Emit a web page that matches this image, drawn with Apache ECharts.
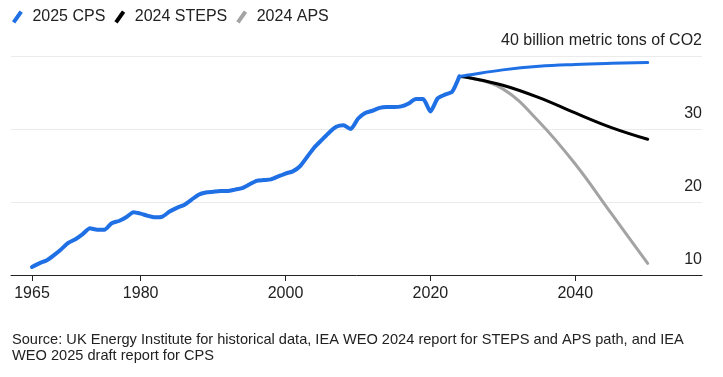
<!DOCTYPE html>
<html>
<head>
<meta charset="utf-8">
<script src="https://cdn.jsdelivr.net/npm/echarts@6/dist/echarts.min.js"></script>
<style>
  html, body { margin: 0; padding: 0; background: #fff; }
  #chart { width: 723px; height: 377px; }
</style>
</head>
<body>
<div id="chart"></div>
<script>
// Historical emissions (billion metric tons CO2), 1965-2024
var histYears = [
    1965, 1966, 1967, 1968, 1969, 1970, 1971, 1972, 1973, 1974,
    1975, 1976, 1977, 1978, 1979, 1980, 1981, 1982, 1983, 1984,
    1985, 1986, 1987, 1988, 1989, 1990, 1991, 1992, 1993, 1994,
    1995, 1996, 1997, 1998, 1999, 2000, 2001, 2002, 2003, 2004,
    2005, 2006, 2007, 2008, 2009, 2010, 2011, 2012, 2013, 2014,
    2015, 2016, 2017, 2018, 2019, 2020, 2021, 2022, 2023, 2024
];
var histValues = [
    11.1, 11.6, 12.0, 12.7, 13.5, 14.4, 14.9, 15.6, 16.4, 16.2,
    16.2, 17.1, 17.4, 17.9, 18.6, 18.4, 18.1, 17.9, 18.0, 18.7,
    19.2, 19.6, 20.3, 21.0, 21.3, 21.4, 21.5, 21.5, 21.7, 21.9,
    22.4, 22.9, 23.0, 23.1, 23.5, 23.9, 24.2, 24.9, 26.2, 27.5,
    28.5, 29.5, 30.3, 30.5, 30.0, 31.4, 32.2, 32.5, 32.9, 33.0,
    33.0, 33.1, 33.5, 34.1, 34.1, 32.4, 34.2, 34.7, 35.1, 37.2
];

// Projection paths
var projYears = [2024, 2025, 2030, 2035, 2040, 2045, 2050];
var cpsValues = [37.2, 37.35, 38.1, 38.6, 38.85, 39.0, 39.1];
var stepsValues = [37.2, 37.1, 36.0, 34.3, 32.2, 30.2, 28.6];
var apsValues = [37.2, 37.1, 35.5, 31.0, 25.2, 18.4, 11.6];

var xTicks = [1965, 1980, 2000, 2020, 2040];
var yTicks = [10, 20, 30, 40];

var seriesNames = ['2025 CPS', '2024 STEPS', '2024 APS'];

function pairs(xs, ys) {
    return xs.map(function (x, i) { return [x, ys[i]]; });
}

var fontFamily = 'Arial, "Liberation Sans", sans-serif';
var slashIcon = 'path://M7,0 L10,2 L3,12 L0,10 Z';

var chart = echarts.init(document.getElementById('chart'));

chart.setOption({
    animation: false,
    textStyle: { fontFamily: fontFamily },

    legend: {
        data: seriesNames,
        left: 7,
        top: 4,
        itemWidth: 20,
        itemHeight: 13,
        itemGap: 9,
        icon: slashIcon,
        selectedMode: false,
        textStyle: { fontSize: 16, color: '#222', fontFamily: fontFamily }
    },

    grid: { left: 11, right: 21, top: 56, bottom: 102 },

    xAxis: {
        type: 'value',
        min: 1962.1,
        max: 2057.5,
        splitLine: { show: false },
        axisLine: { show: true, lineStyle: { color: '#222', width: 1 } },
        axisTick: { show: true, length: 6, customValues: xTicks, lineStyle: { color: '#222' } },
        axisLabel: {
            customValues: xTicks,
            fontSize: 16,
            color: '#222',
            margin: 11,
            formatter: function (v) { return String(v); }
        }
    },

    yAxis: {
        type: 'value',
        position: 'right',
        min: 10,
        max: 40,
        interval: 10,
        axisLine: { show: false },
        axisTick: { show: false },
        splitLine: { lineStyle: { color: '#ebebeb', width: 1 } },
        axisLabel: {
            inside: true,
            margin: 0,
            align: 'right',
            verticalAlign: 'bottom',
            lineHeight: 16,
            padding: [0, 0, 7, 0],
            fontSize: 16,
            color: '#222',
            formatter: function (v) {
                return v === 40 ? '40 billion metric tons of CO2' : String(v);
            }
        }
    },

    graphic: [{
        type: 'text',
        left: 12,
        top: 332,
        style: {
            text: 'Source: UK Energy Institute for historical data, IEA WEO 2024 report for STEPS and APS path, and IEA\nWEO 2025 draft report for CPS',
            font: '14.6px ' + fontFamily,
            lineHeight: 16,
            fill: '#222'
        }
    }],

    series: [
        {
            name: '2024 APS',
            type: 'line',
            smooth: 0.4,
            showSymbol: false,
            color: '#a3a3a3',
            lineStyle: { width: 3, color: '#a3a3a3', cap: 'round' },
            data: pairs(projYears, apsValues)
        },
        {
            name: '2024 STEPS',
            type: 'line',
            smooth: 0.4,
            showSymbol: false,
            color: '#000',
            lineStyle: { width: 3, color: '#000', cap: 'round' },
            data: pairs(projYears, stepsValues)
        },
        {
            name: '2025 CPS',
            type: 'line',
            smooth: 0.4,
            showSymbol: false,
            color: '#1f6fe5',
            lineStyle: { width: 3, color: '#1f6fe5', cap: 'round' },
            data: pairs(projYears, cpsValues)
        },
        {
            name: '2025 CPS',
            type: 'line',
            smooth: 0.2,
            showSymbol: false,
            color: '#1f6fe5',
            lineStyle: { width: 4, color: '#1f6fe5', cap: 'round', join: 'round' },
            data: pairs(histYears, histValues)
        }
    ]
});
</script>
</body>
</html>
